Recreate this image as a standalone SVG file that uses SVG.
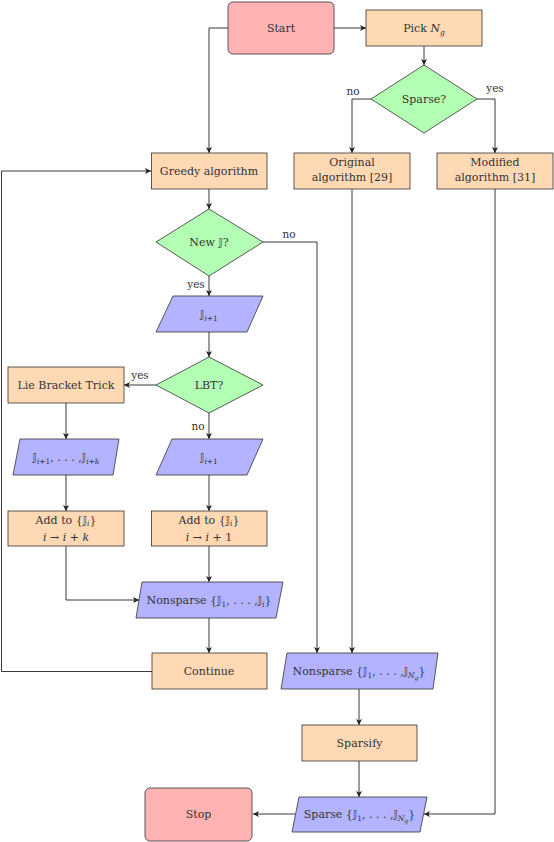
<svg xmlns="http://www.w3.org/2000/svg" width="554" height="842" viewBox="0 0 554 842">
<defs>
<style>
text{font-family:'DejaVu Serif','Liberation Serif',serif;font-size:11px;fill:#333;text-anchor:middle}
.lbl{font-size:10.5px}
.bb{font-family:'DejaVu Sans',sans-serif;font-size:11px}
.sub{font-size:7.5px}
.it{font-style:italic}
.term{fill:#FFB3B3;stroke:#333;stroke-width:0.8}
.proc{fill:#FFD9B3;stroke:#333;stroke-width:0.8}
.dec{fill:#B3FFB3;stroke:#333;stroke-width:0.8}
.io{fill:#B3B3FF;stroke:#333;stroke-width:0.8}
.con{fill:none;stroke:#222;stroke-width:0.9;marker-end:url(#ah)}
</style>
<marker id="ah" markerUnits="userSpaceOnUse" markerWidth="7" markerHeight="6" refX="6" refY="3" orient="auto">
<path d="M0,0 L6,3 L0,6 L1.5,3 Z" fill="#222"/>
</marker>
</defs>
<rect width="554" height="842" fill="#fff"/>
<g id="connectors">
<path class="con" d="M334,28 H366"/>
<path class="con" d="M228,28 H209 V153"/>
<path class="con" d="M424,46 V65"/>
<path class="con" d="M371,99 H352 V153"/>
<path class="con" d="M477,99 H495 V153"/>
<path class="con" d="M209,189 V209"/>
<path class="con" d="M209,276 V296"/>
<path class="con" d="M263,242 H317 V653"/>
<path class="con" d="M209,332 V357"/>
<path class="con" d="M156,385 H124"/>
<path class="con" d="M209,413 V439"/>
<path class="con" d="M66,403 V439"/>
<path class="con" d="M66,475 V511"/>
<path class="con" d="M209,475 V511"/>
<path class="con" d="M66,546 V600 H139"/>
<path class="con" d="M209,546 V582"/>
<path class="con" d="M209,618 V653"/>
<path class="con" d="M152,671.5 H1.5 V171 H151"/>
<path class="con" d="M352,189 V653"/>
<path class="con" d="M359,689 V725"/>
<path class="con" d="M359,761 V797"/>
<path class="con" d="M295,814 H253"/>
<path class="con" d="M495,189 V814 H424"/>
<text class="lbl" x="353" y="95">no</text>
<text class="lbl" x="495" y="92">yes</text>
<text class="lbl" x="289" y="238">no</text>
<text class="lbl" x="196" y="288">yes</text>
<text class="lbl" x="140" y="379">yes</text>
<text class="lbl" x="198" y="430">no</text>
</g>
<g id="start">
<rect class="term" x="228" y="2" width="106" height="52" rx="5"/>
<text x="281" y="32">Start</text>
</g>
<g id="pick">
<rect class="proc" x="366" y="10" width="116" height="36"/>
<text x="424" y="32">Pick <tspan class="it">N</tspan><tspan class="it sub" dy="3">g</tspan></text>
</g>
<g id="sparse-q">
<polygon class="dec" points="424,65 477,99 424,133 371,99"/>
<text x="424" y="103">Sparse?</text>
</g>
<g id="greedy">
<rect class="proc" x="151.5" y="153" width="115.5" height="36"/>
<text x="209" y="175">Greedy algorithm</text>
</g>
<g id="original">
<rect class="proc" x="294" y="153" width="116" height="36"/>
<text x="352" y="166">Original</text>
<text x="352" y="181">algorithm [29]</text>
</g>
<g id="modified">
<rect class="proc" x="437" y="153" width="116" height="36"/>
<text x="495" y="166">Modified</text>
<text x="495" y="181">algorithm [31]</text>
</g>
<g id="newj">
<polygon class="dec" points="209,209 263,242 209,276 156,242"/>
<text x="209" y="246">New <tspan class="bb">𝕁</tspan>?</text>
</g>
<g id="j1">
<polygon class="io" points="173,296 263,296 247,332 156,332"/>
<text x="209" y="318"><tspan class="bb">𝕁</tspan><tspan class="sub it" dy="3">i</tspan><tspan class="sub">+1</tspan></text>
</g>
<g id="lbt">
<polygon class="dec" points="209,357 263,385 209,413 156,385"/>
<text x="209" y="389">LBT?</text>
</g>
<g id="lie">
<rect class="proc" x="8" y="367" width="116" height="36"/>
<text x="66" y="389">Lie Bracket Trick</text>
</g>
<g id="jk">
<polygon class="io" points="20,439 119,439 113,475 13,475"/>
<text x="66" y="461"><tspan class="bb">𝕁</tspan><tspan class="sub it" dy="3">i</tspan><tspan class="sub">+1</tspan><tspan dy="-3">, . . . ,</tspan><tspan class="bb">𝕁</tspan><tspan class="sub it" dy="3">i</tspan><tspan class="sub">+</tspan><tspan class="sub it">k</tspan></text>
</g>
<g id="j2">
<polygon class="io" points="172,439 263,439 247,475 156,475"/>
<text x="209" y="461"><tspan class="bb">𝕁</tspan><tspan class="sub it" dy="3">i</tspan><tspan class="sub">+1</tspan></text>
</g>
<g id="addk">
<rect class="proc" x="8" y="511" width="116" height="35"/>
<text x="66" y="524">Add to {<tspan class="bb">𝕁</tspan><tspan class="sub it" dy="2">i</tspan><tspan dy="-2">}</tspan></text>
<text x="66" y="541"><tspan class="it">i</tspan> → <tspan class="it">i</tspan> + <tspan class="it">k</tspan></text>
</g>
<g id="add1">
<rect class="proc" x="151.5" y="511" width="115.5" height="35"/>
<text x="209" y="524">Add to {<tspan class="bb">𝕁</tspan><tspan class="sub it" dy="2">i</tspan><tspan dy="-2">}</tspan></text>
<text x="209" y="541"><tspan class="it">i</tspan> → <tspan class="it">i</tspan> + 1</text>
</g>
<g id="nonsparse-i">
<polygon class="io" points="142,582 283,582 276,618 136,618"/>
<text x="209" y="604">Nonsparse {<tspan class="bb">𝕁</tspan><tspan class="sub" dy="3">1</tspan><tspan dy="-3">, . . . ,</tspan><tspan class="bb">𝕁</tspan><tspan class="sub it" dy="3">i</tspan><tspan dy="-3">}</tspan></text>
</g>
<g id="continue">
<rect class="proc" x="152" y="653" width="115" height="36"/>
<text x="209" y="675">Continue</text>
</g>
<g id="nonsparse-ng">
<polygon class="io" points="287,653 438,653 433,689 281,689"/>
<text x="359" y="675">Nonsparse {<tspan class="bb">𝕁</tspan><tspan class="sub" dy="3">1</tspan><tspan dy="-3">, . . . ,</tspan><tspan class="bb">𝕁</tspan><tspan class="sub it" dy="3">N</tspan><tspan class="it" font-size="6" dy="2">g</tspan><tspan dy="-5">}</tspan></text>
</g>
<g id="sparsify">
<rect class="proc" x="302" y="725" width="115" height="36"/>
<text x="359.5" y="747">Sparsify</text>
</g>
<g id="sparse-out">
<polygon class="io" points="299,797 427,797 420,832 292,832"/>
<text x="359.5" y="818">Sparse {<tspan class="bb">𝕁</tspan><tspan class="sub" dy="3">1</tspan><tspan dy="-3">, . . . ,</tspan><tspan class="bb">𝕁</tspan><tspan class="sub it" dy="3">N</tspan><tspan class="it" font-size="6" dy="2">g</tspan><tspan dy="-5">}</tspan></text>
</g>
<g id="stop">
<rect class="term" x="145" y="788" width="107" height="53" rx="5"/>
<text x="198.5" y="818">Stop</text>
</g>
</svg>
